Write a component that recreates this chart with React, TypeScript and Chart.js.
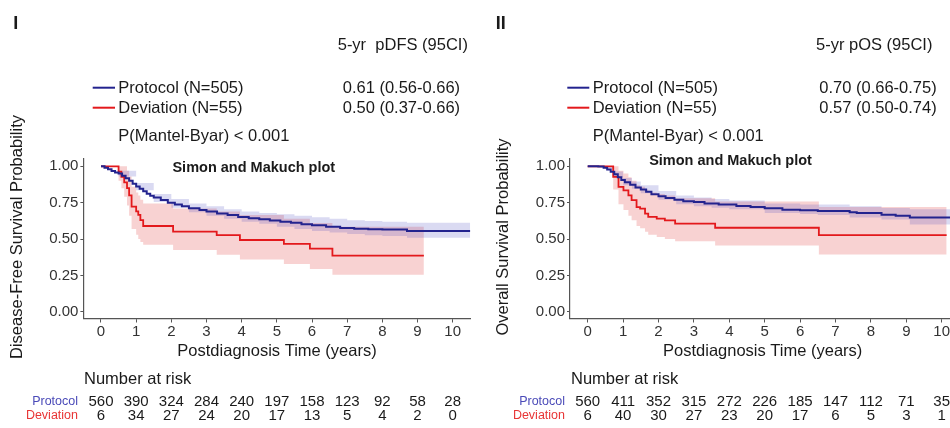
import React, { useEffect, useRef } from "react";
import { Chart, registerables } from "chart.js";
Chart.register(...registerables);

// ---------- shared ticks ----------
const X_TICKS = [0, 1, 2, 3, 4, 5, 6, 7, 8, 9, 10];
const Y_TICKS = [0, 0.25, 0.5, 0.75, 1];

// ---------- Panel I : disease-free survival ----------
const DFS_PROT_T = [0, 0.1, 0.2, 0.3, 0.4, 0.5, 0.6, 0.7, 0.8, 0.9, 1.0, 1.1, 1.2, 1.3, 1.4, 1.5, 1.7, 1.9, 2.1, 2.3, 2.5, 2.8, 3.0, 3.3, 3.6, 3.9, 4.2, 4.5, 4.8, 5.1, 5.4, 5.7, 6.0, 6.4, 6.8, 7.2, 7.6, 8.0, 8.7, 10.5];
const DFS_PROT_S = [1.0, 0.99, 0.98, 0.968, 0.958, 0.95, 0.935, 0.918, 0.9, 0.88, 0.862, 0.845, 0.828, 0.812, 0.797, 0.785, 0.768, 0.75, 0.737, 0.725, 0.712, 0.7, 0.69, 0.675, 0.665, 0.652, 0.643, 0.636, 0.628, 0.62, 0.612, 0.602, 0.595, 0.585, 0.577, 0.572, 0.568, 0.566, 0.556, 0.556];
const DFS_PROT_BAND_T = [0, 0.5, 1, 1.5, 2, 2.5, 3, 3.5, 4, 4.5, 5, 5.5, 6, 6.5, 7, 7.5, 8, 8.7, 10.5];
const DFS_PROT_UP = [1.0, 0.97, 0.885, 0.81, 0.775, 0.745, 0.725, 0.705, 0.69, 0.68, 0.67, 0.66, 0.65, 0.64, 0.63, 0.625, 0.62, 0.613, 0.613];
const DFS_PROT_LO = [1.0, 0.93, 0.835, 0.755, 0.715, 0.685, 0.66, 0.64, 0.62, 0.605, 0.585, 0.57, 0.555, 0.545, 0.535, 0.527, 0.522, 0.51, 0.51];
const DFS_DEV_T = [0, 0.5, 0.58, 0.66, 0.74, 0.8, 0.87, 1.0, 1.06, 1.12, 1.2, 2.05, 3.29, 3.95, 5.2, 5.94, 6.58, 9.18];
const DFS_DEV_S = [1.0, 0.964, 0.927, 0.89, 0.85, 0.8, 0.723, 0.69, 0.666, 0.63, 0.59, 0.552, 0.527, 0.494, 0.467, 0.435, 0.387, 0.387];
const DFS_DEV_UP = [1.0, 1.0, 1.0, 1.0, 0.97, 0.93, 0.86, 0.82, 0.8, 0.77, 0.745, 0.71, 0.69, 0.665, 0.64, 0.61, 0.585, 0.585];
const DFS_DEV_LO = [1.0, 0.9, 0.85, 0.79, 0.73, 0.66, 0.57, 0.53, 0.5, 0.48, 0.462, 0.425, 0.393, 0.36, 0.33, 0.295, 0.255, 0.255];
const DFS_RISK_PROT = [560, 390, 324, 284, 240, 197, 158, 123, 92, 58, 28];
const DFS_RISK_DEV = [6, 34, 27, 24, 20, 17, 13, 5, 4, 2, 0];

// ---------- Panel II : overall survival ----------
const OS_PROT_T = [0, 0.3, 0.45, 0.55, 0.65, 0.75, 0.85, 0.95, 1.05, 1.2, 1.35, 1.5, 1.65, 1.8, 2.0, 2.2, 2.45, 2.7, 3.0, 3.3, 3.7, 4.2, 4.6, 5.0, 5.5, 6.0, 6.5, 7.4, 7.6, 8.3, 8.7, 9.1, 10.5];
const OS_PROT_S = [1.0, 0.998, 0.99, 0.978, 0.962, 0.945, 0.925, 0.905, 0.89, 0.874, 0.855, 0.84, 0.825, 0.808, 0.795, 0.783, 0.77, 0.76, 0.755, 0.745, 0.737, 0.728, 0.72, 0.712, 0.702, 0.698, 0.693, 0.685, 0.68, 0.668, 0.66, 0.648, 0.648];
const OS_PROT_BAND_T = [0, 0.5, 0.75, 1, 1.25, 1.5, 2, 2.5, 3, 3.5, 4, 5, 6, 6.5, 7.4, 8.3, 9.1, 10.5];
const OS_PROT_UP = [1.0, 1.0, 0.965, 0.92, 0.895, 0.87, 0.83, 0.8, 0.785, 0.775, 0.765, 0.745, 0.738, 0.737, 0.725, 0.714, 0.705, 0.705];
const OS_PROT_LO = [1.0, 0.98, 0.925, 0.87, 0.845, 0.815, 0.77, 0.74, 0.725, 0.715, 0.705, 0.68, 0.672, 0.665, 0.648, 0.635, 0.6, 0.6];
const OS_DEV_T = [0, 0.72, 0.87, 1.01, 1.15, 1.24, 1.38, 1.48, 1.62, 1.71, 1.95, 2.18, 2.47, 3.6, 6.53, 10.14];
const OS_DEV_S = [1.0, 0.927, 0.858, 0.835, 0.8, 0.767, 0.72, 0.71, 0.675, 0.652, 0.641, 0.629, 0.607, 0.578, 0.528, 0.528];
const OS_DEV_UP = [1.0, 1.0, 0.97, 0.95, 0.925, 0.9, 0.87, 0.86, 0.84, 0.82, 0.81, 0.8, 0.78, 0.758, 0.72, 0.72];
const OS_DEV_LO = [1.0, 0.84, 0.74, 0.7, 0.66, 0.63, 0.59, 0.575, 0.55, 0.53, 0.515, 0.5, 0.485, 0.456, 0.394, 0.394];
const OS_RISK_PROT = [560, 411, 352, 315, 272, 226, 185, 147, 112, 71, 35];
const OS_RISK_DEV = [6, 40, 30, 27, 23, 20, 17, 6, 5, 3, 1];

// ---------- styles ----------
const FAMILY = '"Liberation Sans", Arial, sans-serif';
const BLUE = "#23238e";
const RED = "#e3191c";
const BLUE_FILL = "rgba(70, 70, 190, 0.2)";
const RED_FILL = "rgba(225, 50, 50, 0.22)";
const AXIS = "#555555";
const TEXT = "#1a1a1a";

const PANELS = [
  {
    left: 0, width: 475, yWidth: 83.4, padRight: 4.7,
    label: "I", labelX: 15.7,
    header: "5-yr  pDFS (95CI)", headerX: 337.7,
    legX1: 92.7, legX2: 115, legText: 118.3, valX: 342.7,
    vals: ["0.61 (0.56-0.66)", "0.50 (0.37-0.66)"],
    subX: 253.8, subY: 168.3,
    yTitle: "Disease-Free Survival Probability", yTitleX: 17,
    xTitleX: 277, nrX: 84, rowLabelX: 78,
    prot: [DFS_PROT_T, DFS_PROT_S], protBand: [DFS_PROT_BAND_T, DFS_PROT_UP, DFS_PROT_LO],
    dev: [DFS_DEV_T, DFS_DEV_S, DFS_DEV_UP, DFS_DEV_LO],
    riskProt: DFS_RISK_PROT, riskDev: DFS_RISK_DEV,
  },
  {
    left: 475, width: 490, yWidth: 95, padRight: 5.6,
    label: "II", labelX: 25.7,
    header: "5-yr pOS (95CI)", headerX: 341,
    legX1: 92.3, legX2: 114.3, legText: 117.7, valX: 344.3,
    vals: ["0.70 (0.66-0.75)", "0.57 (0.50-0.74)"],
    subX: 255.5, subY: 161,
    yTitle: "Overall Survival Probability", yTitleX: 28.3,
    xTitleX: 287.7, nrX: 96, rowLabelX: 90,
    prot: [OS_PROT_T, OS_PROT_S], protBand: [OS_PROT_BAND_T, OS_PROT_UP, OS_PROT_LO],
    dev: [OS_DEV_T, OS_DEV_S, OS_DEV_UP, OS_DEV_LO],
    riskProt: OS_RISK_PROT, riskDev: OS_RISK_DEV,
  },
];

const pts = (t: number[], s: number[]) => t.map((v, i) => ({ x: v, y: s[i] }));
const font = (size: number, bold = false) => `${bold ? "bold " : ""}${size}px ${FAMILY}`;

function makeChart(canvas: HTMLCanvasElement, p: any) {
  const textPlugin = {
    id: "kmText",
    afterDraw(chart: any) {
      const ctx = chart.ctx;
      const xs = chart.scales.x;
      ctx.save();
      ctx.textBaseline = "middle";
      ctx.fillStyle = TEXT;
      // panel label
      ctx.textAlign = "center";
      ctx.font = font(18, true);
      ctx.fillText(p.label, p.labelX, 24);
      // header
      ctx.textAlign = "left";
      ctx.font = font(16.5);
      ctx.fillText(p.header, p.headerX, 45);
      // legend
      const rows = [
        { name: "Protocol (N=505)", color: BLUE, y: 88 },
        { name: "Deviation (N=55)", color: RED, y: 108 },
      ];
      rows.forEach((r, i) => {
        ctx.strokeStyle = r.color;
        ctx.lineWidth = 2;
        ctx.beginPath();
        ctx.moveTo(p.legX1, r.y - 0.3);
        ctx.lineTo(p.legX2, r.y - 0.3);
        ctx.stroke();
        ctx.fillStyle = TEXT;
        ctx.fillText(r.name, p.legText, r.y);
        ctx.fillText(p.vals[i], p.valX, r.y);
      });
      ctx.fillText("P(Mantel-Byar) < 0.001", p.legText, 136.7);
      // subtitle
      ctx.textAlign = "center";
      ctx.font = font(14.5, true);
      ctx.fillText("Simon and Makuch plot", p.subX, p.subY);
      // axis titles
      ctx.font = font(16.5);
      ctx.fillText("Postdiagnosis Time (years)", p.xTitleX, 351);
      ctx.save();
      ctx.translate(p.yTitleX, 237);
      ctx.rotate(-Math.PI / 2);
      ctx.fillText(p.yTitle, 0, 0);
      ctx.restore();
      // number at risk
      ctx.textAlign = "left";
      ctx.font = font(16.5);
      ctx.fillText("Number at risk", p.nrX, 379);
      ctx.textAlign = "right";
      ctx.font = font(12.5);
      ctx.fillStyle = "#4a4ab8";
      ctx.fillText("Protocol", p.rowLabelX, 402);
      ctx.fillStyle = "#e83535";
      ctx.fillText("Deviation", p.rowLabelX, 416);
      ctx.textAlign = "center";
      ctx.font = font(15);
      ctx.fillStyle = TEXT;
      X_TICKS.forEach((t, i) => {
        const x = xs.getPixelForValue(t);
        ctx.fillText(String(p.riskProt[i]), x, 402);
        ctx.fillText(String(p.riskDev[i]), x, 416);
      });
      ctx.restore();
    },
  };

  const lineBase = { pointRadius: 0, stepped: "before", tension: 0 };
  return new Chart(canvas, {
    type: "line",
    data: {
      datasets: [
        { ...lineBase, data: pts(p.prot[0], p.prot[1]), borderColor: BLUE, borderWidth: 2, fill: false },
        { ...lineBase, data: pts(p.dev[0], p.dev[1]), borderColor: RED, borderWidth: 1.8, fill: false },
        { ...lineBase, data: pts(p.protBand[0], p.protBand[1]), borderColor: "transparent", borderWidth: 0, fill: false },
        { ...lineBase, data: pts(p.protBand[0], p.protBand[2]), borderColor: "transparent", borderWidth: 0, fill: "-1", backgroundColor: BLUE_FILL },
        { ...lineBase, data: pts(p.dev[0], p.dev[2]), borderColor: "transparent", borderWidth: 0, fill: false },
        { ...lineBase, data: pts(p.dev[0], p.dev[3]), borderColor: "transparent", borderWidth: 0, fill: "-1", backgroundColor: RED_FILL },
      ],
    } as any,
    options: {
      animation: false,
      responsive: false,
      maintainAspectRatio: false,
      layout: { padding: { left: 0, top: 159, right: p.padRight, bottom: 85.5 } },
      plugins: { legend: { display: false }, tooltip: { enabled: false }, title: { display: false } },
      scales: {
        x: {
          type: "linear",
          min: -0.5,
          max: 10.5,
          afterBuildTicks: (s: any) => { s.ticks = X_TICKS.map((v) => ({ value: v })); },
          afterFit: (s: any) => { s.height = 24; },
          ticks: { font: { size: 15, family: FAMILY }, color: "#333", padding: 0, maxRotation: 0, autoSkip: false, callback: (v: any) => String(v) },
          grid: { drawOnChartArea: false, tickLength: 4, color: AXIS },
          border: { color: AXIS, width: 1.2 },
        },
        y: {
          type: "linear",
          min: -0.045,
          max: 1.05,
          afterBuildTicks: (s: any) => { s.ticks = Y_TICKS.map((v) => ({ value: v })); },
          afterFit: (s: any) => { s.width = p.yWidth; },
          ticks: { font: { size: 15, family: FAMILY }, color: "#333", padding: 2, callback: (v: any) => Number(v).toFixed(2) },
          grid: { drawOnChartArea: false, tickLength: 3, color: AXIS },
          border: { color: AXIS, width: 1.2 },
        },
      },
    } as any,
    plugins: [textPlugin],
  });
}

function Panel({ p }: { p: any }) {
  const ref = useRef<HTMLCanvasElement | null>(null);
  useEffect(() => {
    if (!ref.current) return;
    const chart = makeChart(ref.current, p);
    return () => chart.destroy();
  }, [p]);
  return (
    <canvas
      ref={ref}
      width={p.width}
      height={428}
      style={{ position: "absolute", left: p.left, top: 0, width: p.width, height: 428 }}
    />
  );
}

export default function App() {
  return (
    <div style={{ position: "absolute", left: 0, top: 0, width: 950, height: 428, overflow: "hidden", background: "#fff" }}>
      {PANELS.map((p, i) => (
        <Panel key={i} p={p} />
      ))}
    </div>
  );
}
